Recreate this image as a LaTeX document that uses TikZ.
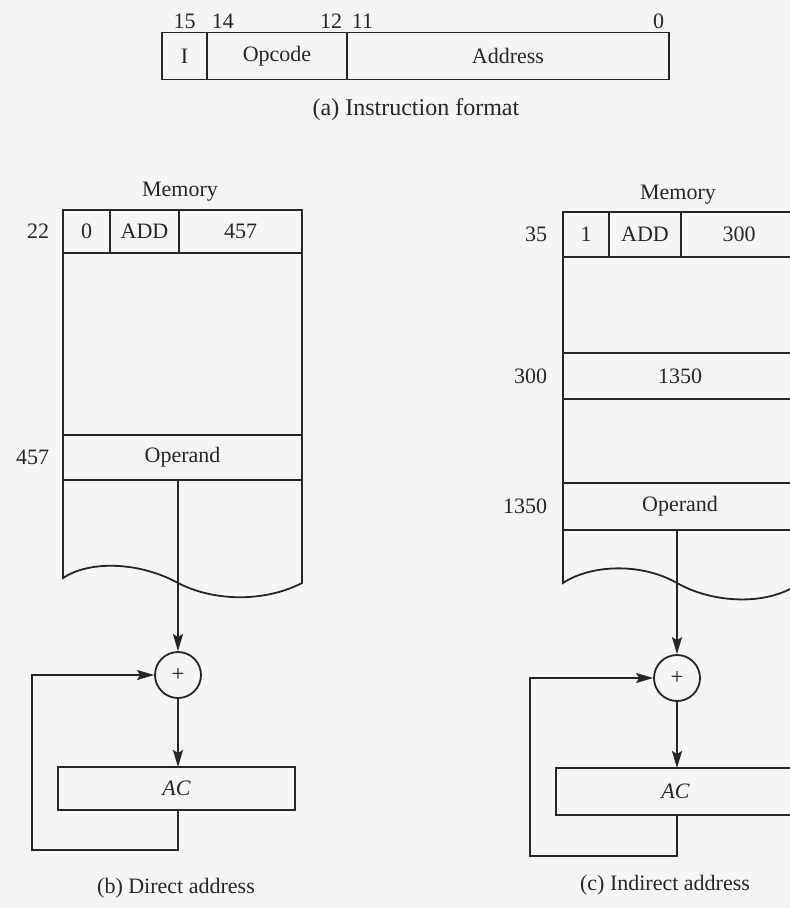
\documentclass[tikz,border=0pt]{standalone}
\usepackage{fontspec}
\setmainfont{Liberation Serif}
\usepackage{tikz}
\usetikzlibrary{positioning,arrows.meta,calc}

\begin{document}
\begin{tikzpicture}[x=1pt,y=-1pt,line width=1.8pt,color=black!85,
    font=\fontsize{22}{26}\selectfont,
    cell/.style={draw,inner sep=0pt,outer sep=0pt,minimum height=#1},
    bit/.style={inner xsep=4pt,inner ysep=3pt},
    addr/.style={inner sep=0pt},
    adder/.style={draw,circle,minimum size=46pt,inner sep=0pt,font=\fontsize{23}{25}\selectfont},
    arr/.style={-{Stealth[length=17pt,width=10pt,inset=3pt]}}]
  \useasboundingbox (0,0) rectangle (790,908);
  \clip (0,0) rectangle (790,908);
  \fill[black!4] (0,0) rectangle (790,908);
  % instruction format
  \node[cell=47pt,minimum width=45pt] (fI) at (184.5,56) {I};
  \node[cell=47pt,minimum width=140pt,right=0pt of fI] (fOp) {Opcode};
  \node[cell=47pt,minimum width=322pt,right=0pt of fOp] (fAddr) {Address};
  \node[bit,anchor=south] at (fI.north) {15};
  \node[bit,anchor=south west] at (fOp.north west) {14};
  \node[bit,anchor=south east] at (fOp.north east) {12};
  \node[bit,anchor=south west] at (fAddr.north west) {11};
  \node[bit,anchor=south east] at (fAddr.north east) {0};
  \node[font=\fontsize{24}{28}\selectfont] (capA) at (416,110) {(a) Instruction format};
  % direct address
  \node (memB) at (180,192) {Memory};
  \node[cell=43pt,minimum width=47pt] (iB) at (86.5,231.5) {0};
  \node[cell=43pt,minimum width=69pt,right=0pt of iB] (opcB) {ADD};
  \node[cell=43pt,minimum width=123pt,right=0pt of opcB] (adB) {457};
  \node[cell=182pt,minimum width=239pt,anchor=north west] (gapB) at (iB.south west) {};
  \node[cell=45pt,minimum width=239pt,anchor=north west] (opdB) at (gapB.south west) {Operand};
  \node[addr,left=13pt of iB] (aB1) {22};
  \node[addr,left=13pt of opdB] (aB2) {457};
  \draw (opdB.south west) -- (63,578) .. controls (90,560) and (140,562) .. (178,583)
    .. controls (215,602) and (265,602) .. (302,583) -- (opdB.south east);
  \node[adder] (sumB) at (178,675) {+};
  \node[cell=43pt,minimum width=237pt] (acB) at (176.5,788.5) {\textit{AC}};
  \coordinate (loopB) at (32,850);
  \draw[arr] (opdB.south -| sumB) -- (sumB);
  \draw[arr] (sumB) -- (acB.north -| sumB);
  \draw[arr] (acB.south -| sumB) |- (loopB) |- (sumB.west);
  \node (capB) at (176,888) {(b) Direct address};
  % indirect address
  \node (memC) at (678,195) {Memory};
  \node[cell=45pt,minimum width=46pt] (iC) at (586,234.5) {1};
  \node[cell=45pt,minimum width=72pt,right=0pt of iC] (opcC) {ADD};
  \node[cell=45pt,minimum width=116pt,right=0pt of opcC] (adC) {300};
  \node[cell=96pt,minimum width=234pt,anchor=north west] (gapC1) at (iC.south west) {};
  \node[cell=46pt,minimum width=234pt,anchor=north west] (ptrC) at (gapC1.south west) {1350};
  \node[cell=84pt,minimum width=234pt,anchor=north west] (gapC2) at (ptrC.south west) {};
  \node[cell=47pt,minimum width=234pt,anchor=north west] (opdC) at (gapC2.south west) {Operand};
  \node[addr,left=15pt of iC] (aC1) {35};
  \node[addr,left=15pt of ptrC] (aC2) {300};
  \node[addr,left=15pt of opdC] (aC3) {1350};
  \draw (opdC.south west) -- (563,583) .. controls (590,565) and (640,562) .. (677,583)
    .. controls (712,603) and (765,606) .. (797,585) -- (opdC.south east);
  \node[adder] (sumC) at (677,678) {+};
  \node[cell=47pt,minimum width=239pt] (acC) at (675.5,791.5) {\textit{AC}};
  \coordinate (loopC) at (530,856);
  \draw[arr] (opdC.south -| sumC) -- (sumC);
  \draw[arr] (sumC) -- (acC.north -| sumC);
  \draw[arr] (acC.south -| sumC) |- (loopC) |- (sumC.west);
  \node (capC) at (665,885) {(c) Indirect address};
\end{tikzpicture}
\end{document}
